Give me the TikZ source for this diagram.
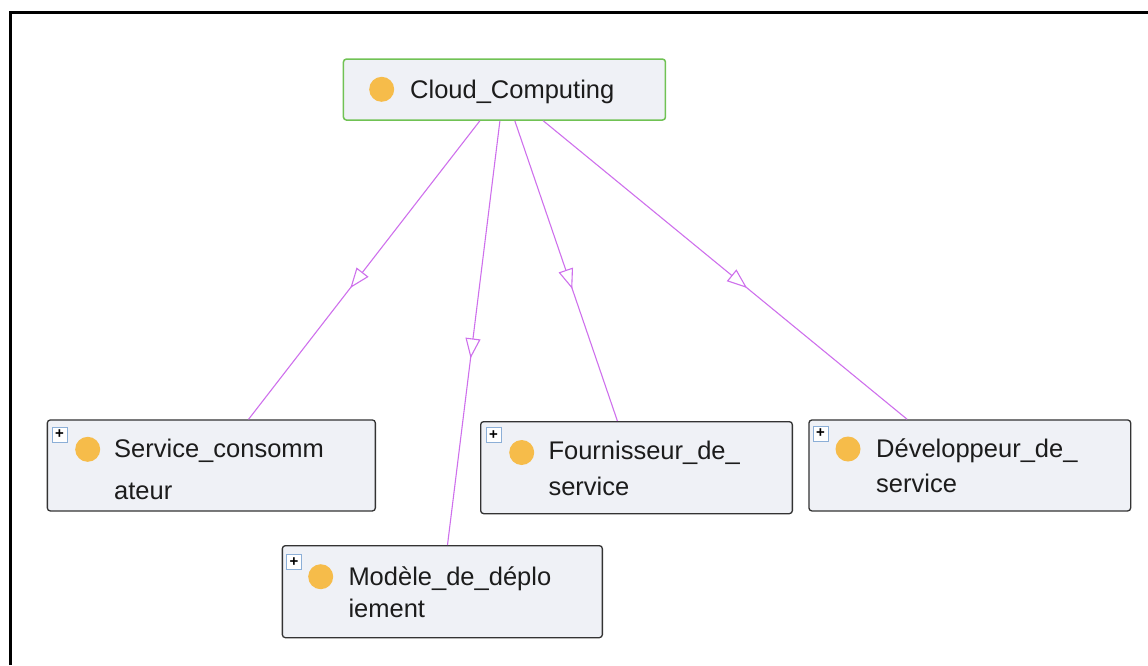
\documentclass[tikz,border=0pt]{standalone}
\usepackage{fontspec}
\setmainfont{Liberation Sans}
\usetikzlibrary{arrows.meta,decorations.markings,calc}
\definecolor{edgecol}{RGB}{206,112,236}
\definecolor{boxfill}{RGB}{239,241,246}
\definecolor{dotcol}{RGB}{246,188,74}
\definecolor{greenb}{RGB}{112,194,84}
\definecolor{plusb}{RGB}{140,175,215}
\definecolor{txt}{RGB}{28,28,28}
\tikzset{
  cls/.style 2 args={draw=black!80, line width=1.3pt, rounded corners=3pt, fill=boxfill,
    anchor=north west, inner sep=0pt, minimum width=#1, minimum height=#2},
  rootbox/.style={cls={322pt}{61pt}, draw=greenb, line width=1.5pt},
  dotnode/.style={circle, fill=dotcol, minimum size=25pt, inner sep=0pt},
  plusbox/.style={draw=plusb, fill=white, line width=0.7pt, minimum size=15pt, inner sep=0pt,
    font=\fontsize{15}{15}\selectfont\bfseries, text=black},
  lbl/.style={anchor=base west, inner sep=0pt, text=txt, font=\fontsize{25.5}{30}\selectfont},
  isa/.style={draw=edgecol, line width=1.1pt,
    postaction={decorate, decoration={markings,
      mark=at position 0.56 with {\arrow[edgecol, line width=1.1pt]{Triangle[open, fill=white, length=20pt, width=15pt]}}}}}
}
\begin{document}
\begin{tikzpicture}[x=1pt, y=-1pt]
\useasboundingbox (0,0) rectangle (1148,665);
% frame
\draw[line width=3pt, black] (10,665) -- (10,12) -- (1148,12);

% root
\node[rootbox] (cc) at (342.7,58.3) {};
\node[dotnode] (ccd) at (381.7,89.3) {};
\node[lbl] (cct) at (410,98) {Cloud\_Computing};

% Service_consommateur
\node[cls={328pt}{91pt}] (sc) at (46.7,419.3) {};
\node[plusbox] (scp) at (59.5,434.5) {+};
\node[dotnode] (scd) at (87.7,449.3) {};
\node[lbl] (sct1) at (114,457) {Service\_consomm};
\node[lbl] (sct2) at (114,499) {ateur};

% Modele_de_deploiement
\node[cls={320pt}{92pt}] (md) at (281.7,545) {};
\node[plusbox] (mdp) at (294,562) {+};
\node[dotnode] (mdd) at (320.7,576.7) {};
\node[lbl] (mdt1) at (348.3,585) {Modèle\_de\_déplo};
\node[lbl] (mdt2) at (348.3,617) {iement};

% Fournisseur_de_service
\node[cls={311.7pt}{92pt}] (fs) at (480,421) {};
\node[plusbox] (fsp) at (493.5,435) {+};
\node[dotnode] (fsd) at (521.7,452.5) {};
\node[lbl] (fst1) at (548.3,459) {Fournisseur\_de\_};
\node[lbl] (fst2) at (548.3,495) {service};

% Developpeur_de_service
\node[cls={321.7pt}{91pt}] (ds) at (808.3,419.3) {};
\node[plusbox] (dsp) at (820.5,433.5) {+};
\node[dotnode] (dsd) at (848,449) {};
\node[lbl] (dst1) at (876,457) {Développeur\_de\_};
\node[lbl] (dst2) at (876,492) {service};

% connectors
\draw[isa] ($(cc.south west)!0.424!(cc.south east)$) -- ($(sc.north west)!0.613!(sc.north east)$);
\draw[isa] ($(cc.south west)!0.486!(cc.south east)$) -- ($(md.north west)!0.516!(md.north east)$);
\draw[isa] ($(cc.south west)!0.532!(cc.south east)$) -- ($(fs.north west)!0.439!(fs.north east)$);
\draw[isa] ($(cc.south west)!0.620!(cc.south east)$) -- ($(ds.north west)!0.306!(ds.north east)$);
\end{tikzpicture}
\end{document}
